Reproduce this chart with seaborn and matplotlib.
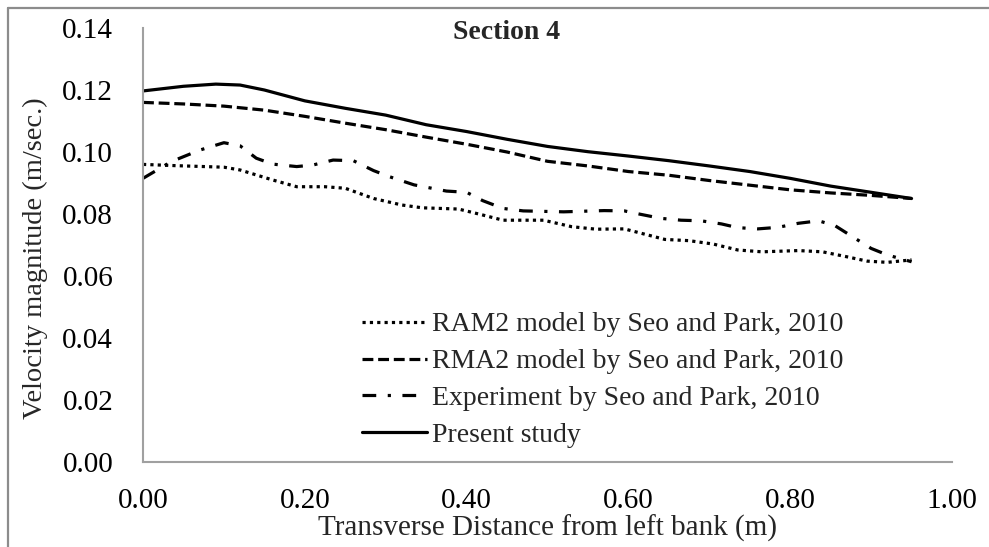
import matplotlib
matplotlib.use("Agg")
import matplotlib.pyplot as plt
from matplotlib.lines import Line2D
import pandas as pd
import seaborn as sns

# Transverse velocity profiles at Section 4
x_ram2 = [0.00, 0.04, 0.10, 0.12, 0.16, 0.19, 0.225, 0.25, 0.285, 0.32, 0.345, 0.39,
          0.415, 0.445, 0.495, 0.53, 0.56, 0.595, 0.62, 0.645, 0.675, 0.705, 0.735,
          0.765, 0.81, 0.84, 0.87, 0.895, 0.92, 0.95]
v_ram2 = [0.0960, 0.0956, 0.0951, 0.0942, 0.0910, 0.0888, 0.0888, 0.0883, 0.0850,
          0.0829, 0.0820, 0.0816, 0.0800, 0.0780, 0.0780, 0.0759, 0.0751, 0.0752,
          0.0735, 0.0718, 0.0714, 0.0703, 0.0684, 0.0678, 0.0682, 0.0678, 0.0662,
          0.0648, 0.0644, 0.0652]

x_rma2 = [0.00, 0.05, 0.10, 0.15, 0.20, 0.25, 0.30, 0.35, 0.40, 0.45, 0.50, 0.55,
          0.60, 0.65, 0.70, 0.75, 0.80, 0.85, 0.90, 0.95]
v_rma2 = [0.1160, 0.1155, 0.1148, 0.1135, 0.1115, 0.1093, 0.1072, 0.1048, 0.1025,
          0.1000, 0.0970, 0.0955, 0.0937, 0.0925, 0.0908, 0.0893, 0.0878, 0.0868,
          0.0860, 0.0850]

x_exp = [0.00, 0.035, 0.07, 0.10, 0.12, 0.14, 0.16, 0.19, 0.21, 0.235, 0.26, 0.285,
         0.305, 0.335, 0.375, 0.40, 0.42, 0.445, 0.47, 0.52, 0.57, 0.595, 0.615,
         0.64, 0.665, 0.69, 0.715, 0.735, 0.76, 0.785, 0.81, 0.835, 0.855, 0.875,
         0.90, 0.92, 0.95]
v_exp = [0.0915, 0.0969, 0.1006, 0.1030, 0.1020, 0.0980, 0.0961, 0.0953, 0.0958,
         0.0974, 0.0972, 0.0940, 0.0920, 0.0894, 0.0874, 0.0870, 0.0843, 0.0818,
         0.0810, 0.0807, 0.0811, 0.0810, 0.0799, 0.0786, 0.0780, 0.0778, 0.0768,
         0.0756, 0.0752, 0.0757, 0.0770, 0.0778, 0.0763, 0.0730, 0.0689, 0.0668,
         0.0646]

x_present = [0.00, 0.05, 0.09, 0.12, 0.15, 0.20, 0.25, 0.30, 0.35, 0.40, 0.45, 0.50,
             0.55, 0.60, 0.65, 0.70, 0.75, 0.80, 0.85, 0.90, 0.95]
v_present = [0.1197, 0.1212, 0.1219, 0.1216, 0.1200, 0.1165, 0.1141, 0.1119, 0.1088,
             0.1066, 0.1041, 0.1018, 0.1001, 0.0987, 0.0972, 0.0955, 0.0937, 0.0915,
             0.0890, 0.0870, 0.0850]

labels = ["RAM2 model by Seo and Park, 2010",
          "RMA2 model by Seo and Park, 2010",
          "Experiment by Seo and Park, 2010",
          "Present study"]
x_ticks = [0.00, 0.20, 0.40, 0.60, 0.80, 1.00]
y_ticks = [0.00, 0.02, 0.04, 0.06, 0.08, 0.10, 0.12, 0.14]

frames = []
for lab, xs, vs in zip(labels, [x_ram2, x_rma2, x_exp, x_present],
                       [v_ram2, v_rma2, v_exp, v_present]):
    frames.append(pd.DataFrame({"x": xs, "v": vs, "series": lab}))
df = pd.concat(frames, ignore_index=True)

sns.set_theme(style="white")
plt.rcParams["font.family"] = ["Liberation Serif", "DejaVu Serif"]

fig = plt.figure(figsize=(9.89, 5.47), dpi=100)
ax = fig.add_axes([0.1446, 0.1554, 0.818, 0.7934])

dash_styles = {
    labels[0]: (1.0, 1.3),
    labels[1]: (3.4, 1.5),
    labels[2]: (4.3, 3.6, 1.0, 3.6),
    labels[3]: "",
}
sns.lineplot(data=df, x="x", y="v", hue="series", style="series",
             palette=["black"] * 4, dashes=dash_styles, hue_order=labels,
             style_order=labels, sort=False, estimator=None, linewidth=2.3,
             ax=ax, legend=True)

ax.set_xlim(0, 1.0)
ax.set_ylim(0, 0.14)
ax.set_xticks(x_ticks)
ax.set_yticks(y_ticks)
ax.set_xticklabels([f"{t:.2f}" for t in x_ticks])
ax.set_yticklabels([f"{t:.2f}" for t in y_ticks])
ax.tick_params(axis="both", direction="in", length=7, width=1.3, color="#a0a0a0",
               labelsize=21, labelcolor="black")
ax.tick_params(axis="y", pad=21.5)
ax.tick_params(axis="x", pad=19)

for side in ["top", "right"]:
    ax.spines[side].set_visible(False)
for side in ["left", "bottom"]:
    ax.spines[side].set_color("#a0a0a0")
    ax.spines[side].set_linewidth(1.5)

ax.set_xlabel("Transverse Distance from left bank (m)", fontsize=21, labelpad=0)
ax.set_ylabel("Velocity magnitude (m/sec.)", fontsize=20.5)
ax.yaxis.set_label_coords(-0.118, 0.47)
ax.text(0.45, 0.99, "Section 4", transform=ax.transAxes, ha="center", va="center",
        fontsize=20, fontweight="bold")

handles, _ = ax.get_legend_handles_labels()
leg = ax.legend(handles=handles, labels=labels, loc="center left",
                bbox_to_anchor=(362 / 989, 1 - 380 / 547),
                bbox_transform=fig.transFigure, frameon=False, fontsize=20,
                handlelength=2.34, handletextpad=0.18, labelspacing=0.41,
                borderpad=0, borderaxespad=0)
for ln in leg.get_lines():
    ln.set_linewidth(2.3)

# page frame along the left and top edges
fig.add_artist(Line2D([8 / 989, 8 / 989], [0, 1 - 8 / 547], color="#8c8c8c",
                      linewidth=1.6, transform=fig.transFigure))
fig.add_artist(Line2D([8 / 989, 1], [1 - 8 / 547, 1 - 8 / 547], color="#8c8c8c",
                      linewidth=1.6, transform=fig.transFigure))

fig.savefig("out.png", dpi=100)
